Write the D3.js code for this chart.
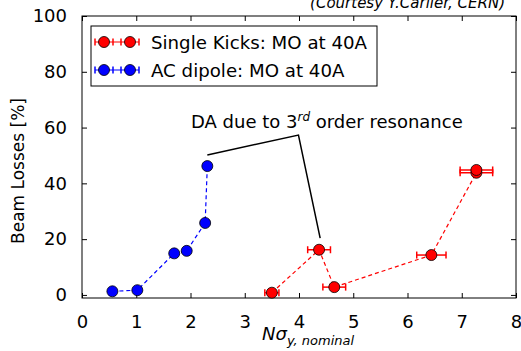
<!DOCTYPE html>
<html>
<head>
<meta charset="utf-8">
<script src="https://cdn.jsdelivr.net/npm/d3@7"></script>
<style>
  body { margin: 0; background: #fff; }
  text { font-family: "DejaVu Sans", sans-serif; }
</style>
</head>
<body>
<div id="chart"></div>
<script>
// AC dipole data
const acX = [0.56, 1.02, 1.70, 1.93, 2.27, 2.31];
const acY = [1.3, 1.7, 14.9, 15.8, 25.8, 46.2];
// single kicks data (with horizontal error)
const skX = [3.50, 4.37, 4.65, 6.44, 7.27, 7.27];
const skY = [0.8, 16.2, 2.8, 14.3, 43.8, 44.8];
const skErr = [0.13, 0.21, 0.21, 0.27, 0.30, 0.30];

const xTicks = [0, 1, 2, 3, 4, 5, 6, 7, 8];
const yTicks = [0, 20, 40, 60, 80, 100];
const seriesNames = ["Single Kicks: MO at 40A", "AC dipole: MO at 40A"];
// annotation path in data coords
const annX = [2.31, 3.99, 4.39];
const annY = [50.2, 57.3, 20.4];

const W = 521, H = 351;
const margin = { top: 16, right: 5, bottom: 53, left: 82 };
const width = W - margin.left - margin.right;
const height = H - margin.top - margin.bottom;

const svg = d3.select("#chart").append("svg")
  .attr("width", W).attr("height", H);

const g = svg.append("g")
  .attr("transform", `translate(${margin.left},${margin.top})`);

const x = d3.scaleLinear().domain([0, 8]).range([0, width]);
const y = d3.scaleLinear().domain([-1.1, 100]).range([height, 0]);

// axes with inward ticks
const xa = g.append("g").attr("transform", `translate(0,${height})`)
  .call(d3.axisBottom(x).tickValues(xTicks).tickSize(-5).tickPadding(17));
const ya = g.append("g")
  .call(d3.axisLeft(y).tickValues(yTicks).tickSize(-5).tickPadding(15));
g.append("g")
  .call(d3.axisTop(x).tickValues(xTicks).tickSize(-5).tickFormat(""));
g.append("g").attr("transform", `translate(${width},0)`)
  .call(d3.axisRight(y).tickValues(yTicks).tickSize(-5).tickFormat(""));
g.selectAll(".domain").remove();
g.selectAll(".tick line").attr("stroke", "#000");
[xa, ya].forEach(a => a.selectAll("text")
  .attr("font-size", 18).attr("fill", "#000")
  .attr("font-family", "DejaVu Sans, sans-serif"));

g.append("rect").attr("width", width).attr("height", height)
  .attr("fill", "none").attr("stroke", "#000").attr("stroke-width", 1);

// dashed lines
const line = d3.line().x(d => x(d[0])).y(d => y(d[1]));
g.append("path").datum(acX.map((v, i) => [v, acY[i]]))
  .attr("d", line).attr("fill", "none").attr("stroke", "#0000ff")
  .attr("stroke-width", 1.2).attr("stroke-dasharray", "4,3");
g.append("path").datum(skX.map((v, i) => [v, skY[i]]))
  .attr("d", line).attr("fill", "none").attr("stroke", "#ff0000")
  .attr("stroke-width", 1.2).attr("stroke-dasharray", "4,3");

// error bars
const eb = g.append("g").attr("stroke", "#ff0000").attr("stroke-width", 1.5);
skX.forEach((v, i) => {
  const y0 = y(skY[i]);
  eb.append("line").attr("x1", x(v - skErr[i])).attr("x2", x(v + skErr[i]))
    .attr("y1", y0).attr("y2", y0);
  [v - skErr[i], v + skErr[i]].forEach(c => {
    eb.append("line").attr("x1", x(c)).attr("x2", x(c))
      .attr("y1", y0 - 3.5).attr("y2", y0 + 3.5);
  });
});

// markers
g.selectAll(".ac").data(acX).join("circle")
  .attr("cx", d => x(d)).attr("cy", (d, i) => y(acY[i])).attr("r", 5.5)
  .attr("fill", "#0000ff").attr("stroke", "#000").attr("stroke-width", 0.8);
g.selectAll(".sk").data(skX).join("circle")
  .attr("cx", d => x(d)).attr("cy", (d, i) => y(skY[i])).attr("r", 5.5)
  .attr("fill", "#ff0000").attr("stroke", "#000").attr("stroke-width", 0.8);

// annotation
g.append("path").datum(annX.map((v, i) => [v, annY[i]]))
  .attr("d", line).attr("fill", "none").attr("stroke", "#000").attr("stroke-width", 1.5);
const ann = svg.append("text").attr("x", 191).attr("y", 128)
  .attr("font-size", 18).attr("fill", "#000");
ann.append("tspan").text("DA due to 3");
ann.append("tspan").attr("font-size", 12).attr("font-style", "italic")
  .attr("dy", -7).text("rd");
ann.append("tspan").attr("dy", 7).text(" order resonance");

// legend
const leg = svg.append("g");
leg.append("rect").attr("x", 91).attr("y", 26).attr("width", 286).attr("height", 60)
  .attr("fill", "#fff").attr("stroke", "#000").attr("stroke-width", 1);
const legColors = ["#ff0000", "#0000ff"];
seriesNames.forEach((name, i) => {
  const ly = 42 + i * 28;
  const c = legColors[i];
  leg.append("line").attr("x1", 95).attr("x2", 139).attr("y1", ly).attr("y2", ly)
    .attr("stroke", c).attr("stroke-width", 1.2);
  [95, 113, 121, 139].forEach(cx => {
    leg.append("line").attr("x1", cx).attr("x2", cx).attr("y1", ly - 3.5).attr("y2", ly + 3.5)
      .attr("stroke", c).attr("stroke-width", 1.5);
  });
  [104, 130].forEach(cx => {
    leg.append("circle").attr("cx", cx).attr("cy", ly).attr("r", 5.5)
      .attr("fill", c).attr("stroke", "#000").attr("stroke-width", 0.8);
  });
  leg.append("text").attr("x", 151).attr("y", ly + 6.5).attr("font-size", 18.2)
    .attr("fill", "#000").text(name);
});

// axis labels
svg.append("text")
  .attr("transform", `translate(24,171) rotate(-90)`)
  .attr("text-anchor", "middle").attr("font-size", 17).attr("fill", "#000")
  .text("Beam Losses [%]");
const xl = svg.append("text").attr("x", 262).attr("y", 340)
  .attr("font-style", "italic").attr("fill", "#000");
xl.append("tspan").attr("font-size", 18).text("Nσ");
xl.append("tspan").attr("font-size", 13).attr("dy", 5).text("y, nominal");

// courtesy (cut off at the top edge, as in the reference)
svg.append("text").attr("x", 505).attr("y", 8).attr("text-anchor", "end")
  .attr("font-size", 15).attr("font-style", "italic").attr("fill", "#000")
  .text("(Courtesy Y.Carlier, CERN)");
</script>
</body>
</html>
